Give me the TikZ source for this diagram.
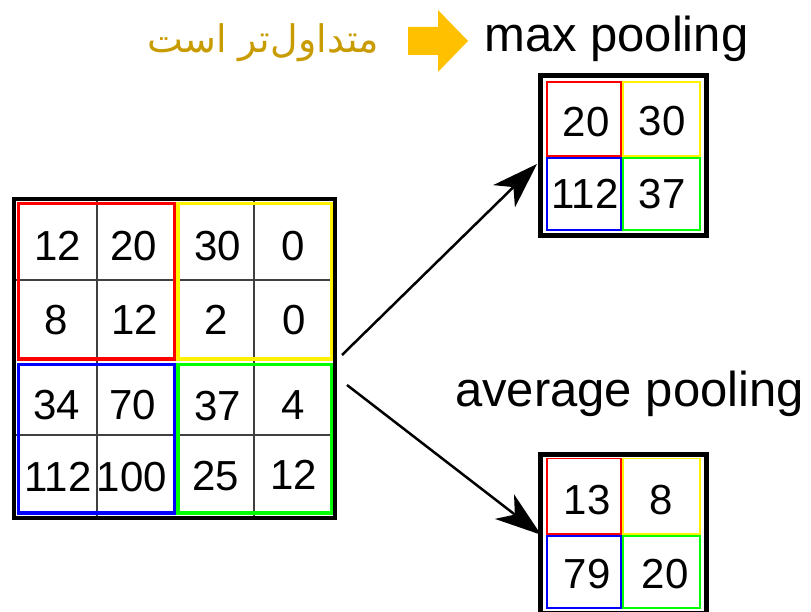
\documentclass[tikz,border=0pt]{standalone}
\usepackage{fontspec}
\setmainfont{Liberation Sans}
\newfontfamily\arabicfont[Script=Arabic]{DejaVu Sans}
\TeXXeTstate=1
\usetikzlibrary{arrows.meta}
\definecolor{notegold}{RGB}{200,155,0}
\definecolor{hintarrow}{RGB}{255,192,0}

\begin{document}
\begin{tikzpicture}[x=1pt,y=-1pt]
\tikzset{num/.style={inner sep=0pt, font=\fontsize{42}{42}\selectfont}}
\tikzset{title/.style={inner sep=0pt, anchor=base west, font=\fontsize{49}{49}\selectfont}}
\tikzset{frame/.style={draw, inner sep=0pt}}
\tikzset{quad/.style={line width=1.5pt}}
\tikzset{flow/.style={line width=2.5pt, -{Stealth[length=46pt, width=31pt, inset=13pt]}}}
\useasboundingbox (0,0) rectangle (811,612);

% input feature map
\draw[black!75, line width=1.2pt] (97,199) -- (97,518) (254,199) -- (254,518) (14,280) -- (335,280) (14,435) -- (335,435);
\draw[red, line width=3.5pt] (18.5,203.5) rectangle (174.5,359);
\draw[yellow, line width=3.5pt] (178,203.5) rectangle (332,359);
\draw[blue, line width=3.5pt] (18.5,364.5) rectangle (174.5,513);
\draw[green, line width=3.5pt] (178,364.5) rectangle (332,513);
\node[frame, line width=4pt, minimum width=321pt, minimum height=319pt] (input) at (174.5,358.5) {};
\foreach \n/\v/\xx/\yy in {a1/12/58/246, a2/20/134/246, a3/30/218/246, a4/0/293/246,
  b1/8/56/320, b2/12/135/320, b3/2/216/320, b4/0/294/320,
  c1/34/57/405, c2/70/133/405, c3/37/218/406, c4/4/293/405,
  d1/112/58/477, d2/100/132/477, d3/25/216/476, d4/12/294/475}
  \node[num] (\n) at (\xx,\yy) {\v};

% max pooling
\draw[red, quad] (547,82) rectangle (621.2,156.2);
\draw[yellow, quad] (622.8,82) rectangle (700,156.2);
\draw[blue, quad] (547,157.8) rectangle (621.2,230);
\draw[green, quad] (622.8,157.8) rectangle (700,230);
\node[frame, line width=5pt, minimum width=165.5pt, minimum height=160pt] (maxpool) at (623.25,155.5) {};
\node[num] (m1) at (586,122) {20};
\node[num] (m2) at (662,121) {30};
\node[num] (m3) at (585,194) {112};
\node[num] (m4) at (662,194) {37};

% average pooling
\draw[red, quad] (547,458.5) rectangle (621.2,534.2);
\draw[yellow, quad] (622.8,458.5) rectangle (700,534.2);
\draw[blue, quad] (547,535.8) rectangle (621.2,608);
\draw[green, quad] (622.8,535.8) rectangle (700,608);
\node[frame, line width=5pt, minimum width=165.5pt, minimum height=158.5pt] (avgpool) at (623.25,533.75) {};
\node[num] (v1) at (587,500) {13};
\node[num] (v2) at (661,500) {8};
\node[num] (v3) at (587,574) {79};
\node[num] (v4) at (665,574) {20};

% titles
\node[title] (maxtitle) at (484,52) {max pooling};
\node[title] (avgtitle) at (455,406) {average pooling};
\fill[hintarrow] (408,27) -- (438,27) -- (438,10) -- (468,41) -- (438,72) -- (438,55) -- (408,55) -- cycle;
\node[inner sep=0pt, anchor=base east, text=notegold, font=\arabicfont\fontsize{38}{38}\selectfont] (note) at (379,53) {\beginR متداول^^^^200cتر است\endR};

\draw[flow] ([xshift=5pt,yshift=3.5pt]input.east) -- ([xshift=-1pt,yshift=-8.5pt]maxpool.west);
\draw[flow] ([xshift=10pt,yshift=-26.5pt]input.east) -- ([xshift=3pt,yshift=-1pt]avgpool.west);
\end{tikzpicture}
\end{document}
